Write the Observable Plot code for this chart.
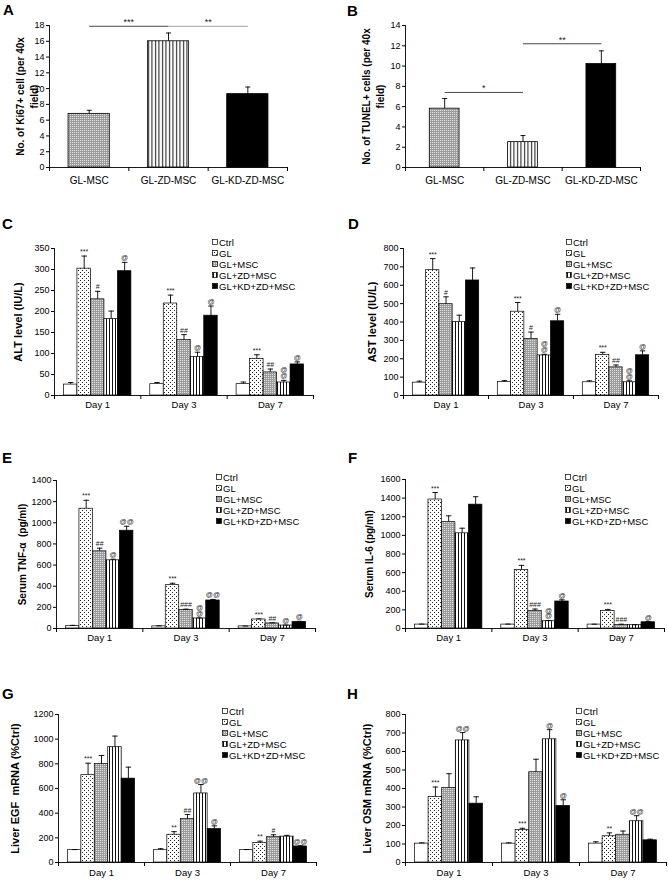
<!DOCTYPE html>
<html><head><meta charset="utf-8">
<script src="https://cdn.jsdelivr.net/npm/d3@7"></script>
<script src="https://cdn.jsdelivr.net/npm/@observablehq/plot@0.6"></script>
<style>
body{margin:0;background:#fff;font-family:"Liberation Sans",Arial,sans-serif;}
#root{position:relative;width:668px;height:880px;overflow:hidden;background:#fff;}
.letter{position:absolute;font-weight:bold;font-size:15px;line-height:15px;color:#000;}
.legend{position:absolute;font-size:9.5px;color:#000;}
.legend .row{display:flex;align-items:center;height:11px;line-height:11px;white-space:nowrap;}
.legend svg{margin-right:1px;flex:none;}
</style></head><body>
<svg width="0" height="0" style="position:absolute"><defs>
<pattern id="pDots" width="4" height="4" patternUnits="userSpaceOnUse"><rect width="4" height="4" fill="#fff"/><rect x="0" y="0" width="1" height="1" fill="#222"/><rect x="2" y="2" width="1" height="1" fill="#222"/></pattern>
<pattern id="pGray" width="2" height="2" patternUnits="userSpaceOnUse"><rect width="2" height="2" fill="#9c9c9c"/><rect width="1" height="1" fill="#e2e2e2"/></pattern>
<pattern id="pStripe" width="3" height="3" patternUnits="userSpaceOnUse"><rect width="3" height="3" fill="#fff"/><rect x="1" width="1" height="3" fill="#111"/></pattern>
<pattern id="pStripeA" width="3.5" height="4" patternUnits="userSpaceOnUse"><rect width="3.5" height="4" fill="#fff"/><rect x="1" width="1" height="4" fill="#111"/></pattern>
</defs></svg>
<div id="root"></div>
<script>
// ---------- shared categories ----------
const days = ["Day 1", "Day 3", "Day 7"];
const groups = ["Ctrl", "GL", "GL+MSC", "GL+ZD+MSC", "GL+KD+ZD+MSC"];
const groupFills = ["#ffffff", "url(#pDots)", "url(#pGray)", "url(#pStripe)", "#000000"];

const abCats = ["GL-MSC", "GL-ZD-MSC", "GL-KD-ZD-MSC"];
const abFills = ["url(#pGray)", "url(#pStripeA)", "#000000"];

// ---------- A: Ki67 ----------
const ki67Mean = [6.8, 16.0, 9.3];
const ki67Err = [0.45, 1.05, 0.9];
const ki67Ticks = [0, 2, 4, 6, 8, 10, 12, 14, 16, 18];
const ki67Comps = [
  {from: 0, to: 1, level: 17.9, label: "***", color: "#333"},
  {from: 1, to: 2, level: 17.9, label: "**", color: "#999"}
];

// ---------- B: TUNEL ----------
const tunelMean = [5.8, 2.5, 10.2];
const tunelErr = [1.0, 0.65, 1.3];
const tunelTicks = [0, 2, 4, 6, 8, 10, 12, 14];
const tunelComps = [
  {from: 0, to: 1, level: 7.4, label: "*", color: "#333"},
  {from: 1, to: 2, level: 12.2, label: "**", color: "#333"}
];

// ---------- C: ALT ----------
const altMean = [[26, 302, 229, 182, 296], [27, 219, 132, 92, 190], [27, 87, 55, 31, 74]];
const altErr  = [[5, 30, 19, 19, 21], [4, 20, 13, 11, 23], [5, 10, 8, 5, 6]];
const altSig  = [["", "***", "#", "", "@"], ["", "***", "##", "@", "@"], ["", "***", "##", "@\n@", "@"]];
const altTicks = [0, 50, 100, 150, 200, 250, 300, 350];

// ---------- D: AST ----------
const astMean = [[70, 682, 497, 400, 626], [73, 456, 308, 218, 404], [72, 220, 153, 72, 219]];
const astErr  = [[8, 63, 40, 37, 68], [8, 50, 37, 6, 38], [8, 15, 13, 8, 24]];
const astSig  = [["", "***", "#", "", ""], ["", "***", "#", "@\n@", "@"], ["", "***", "##", "@\n@", "@"]];
const astTicks = [0, 100, 200, 300, 400, 500, 600, 700, 800];

// ---------- E: TNF-a ----------
const tnfMean = [[22, 1133, 730, 645, 925], [20, 410, 175, 95, 265], [20, 85, 48, 28, 62]];
const tnfErr  = [[8, 80, 30, 10, 42], [5, 18, 8, 5, 10], [3, 6, 6, 4, 6]];
const tnfSig  = [["", "***", "##", "@", "@@"], ["", "***", "###", "@\n@", "@@"], ["", "***", "##", "@", "@"]];
const tnfTicks = [0, 200, 400, 600, 800, 1000, 1200, 1400];

// ---------- F: IL-6 ----------
const il6Mean = [[42, 1385, 1142, 1022, 1330], [42, 628, 187, 78, 290], [42, 187, 38, 36, 67]];
const il6Err  = [[5, 75, 68, 55, 85], [5, 50, 22, 8, 18], [4, 18, 8, 4, 6]];
const il6Sig  = [["", "***", "", "", ""], ["", "***", "###", "@\n@", "@"], ["", "***", "###", "", "@"]];
const il6Ticks = [0, 200, 400, 600, 800, 1000, 1200, 1400, 1600];

// ---------- G: EGF ----------
const egfMean = [[100, 708, 798, 935, 680], [100, 225, 352, 560, 272], [100, 158, 205, 210, 130]];
const egfErr  = [[5, 97, 70, 90, 93], [12, 25, 37, 72, 25], [5, 15, 20, 10, 6]];
const egfSig  = [["", "***", "", "", ""], ["", "**", "##", "@@", "@"], ["", "**", "#", "", "@@"]];
const egfTicks = [0, 200, 400, 600, 800, 1000, 1200];

// ---------- H: OSM ----------
const osmMean = [[102, 355, 403, 660, 318], [102, 175, 488, 666, 306], [102, 142, 150, 223, 120]];
const osmErr  = [[4, 53, 77, 42, 37], [4, 10, 70, 52, 33], [10, 18, 20, 30, 6]];
const osmSig  = [["", "***", "", "@@", ""], ["", "***", "", "@", "@"], ["", "**", "", "@@", ""]];
const osmTicks = [0, 100, 200, 300, 400, 500, 600, 700, 800];

const root = document.getElementById("root");
const FONT = "'Liberation Sans', Arial, sans-serif";
const plain = d => String(d);

function place(node, left, top) {
  node.style.position = "absolute";
  node.style.left = left + "px";
  node.style.top = top + "px";
  root.appendChild(node);
}
function letter(txt, x, capTop) {
  const d = document.createElement("div");
  d.className = "letter"; d.textContent = txt;
  d.style.left = x + "px"; d.style.top = (capTop - 2) + "px";
  root.appendChild(d);
}
function legend(x, yFirst) {
  const box = document.createElement("div");
  box.className = "legend";
  box.style.left = x + "px"; box.style.top = (yFirst - 5.5) + "px";
  groups.forEach((g, i) => {
    const row = document.createElement("div"); row.className = "row";
    row.innerHTML = `<svg width="6" height="6"><rect x="0.5" y="0.5" width="5" height="5" fill="${groupFills[i]}" stroke="#000" stroke-width="0.7"/></svg><span>${g}</span>`;
    box.appendChild(row);
  });
  root.appendChild(box);
}

// simple 3-category panel (A, B)
function simplePanel(c) {
  const pad = c.pad;
  const rows = abCats.map((cat, i) => ({cat, i, mean: c.mean[i], top: c.mean[i] + c.err[i]}));
  const frameW = c.width - c.mL - c.mR;
  const capU = 5 / (frameW / abCats.length);
  const centers = abCats.map((_, i) => i + 0.5);
  const bounds = d3.range(abCats.length + 1);
  const svg = Plot.plot({
    width: c.width, height: c.height,
    marginLeft: c.mL, marginRight: c.mR, marginTop: c.mT, marginBottom: c.mB,
    style: {fontFamily: FONT, fontSize: "9px", color: "#000", background: "transparent"},
    x: {type: "linear", domain: [0, abCats.length]},
    y: {domain: [0, c.yTicks[c.yTicks.length - 1]]},
    color: {type: "ordinal", domain: abCats, range: abFills},
    marks: [
      Plot.rect(rows, {x1: d => d.i + pad, x2: d => d.i + 1 - pad, y1: 0, y2: "mean", fill: "cat", stroke: "#000", strokeWidth: 0.8}),
      Plot.ruleX(rows, {x: d => d.i + 0.5, y1: "mean", y2: "top", stroke: "#000", strokeWidth: 0.9}),
      Plot.link(rows, {x1: d => d.i + 0.5 - capU / 2, x2: d => d.i + 0.5 + capU / 2, y1: "top", y2: "top", stroke: "#000", strokeWidth: 0.9}),
      Plot.link(c.comps, {x1: d => d.from + 0.5, x2: d => d.to + 0.5, y1: "level", y2: "level", stroke: d => d.color, strokeWidth: 0.9}),
      Plot.text(c.comps, {x: d => (d.from + d.to) / 2 + 0.5, y: "level", text: "label", lineAnchor: "bottom", dy: -1, fontSize: 9, fill: "#222"}),
      Plot.ruleY([0], {stroke: "#000", strokeWidth: 0.9}),
      Plot.ruleX([0], {stroke: "#000", strokeWidth: 0.9}),
      Plot.axisY({ticks: c.yTicks, tickSize: 3, tickPadding: 2, tickFormat: plain, label: null, fontSize: 9}),
      Plot.axisX({ticks: bounds, tickSize: 4, tickFormat: () => "", label: null}),
      Plot.axisX({ticks: centers, tickSize: 0, tickPadding: 9, tickFormat: v => abCats[Math.round(v - 0.5)], label: null, fontSize: 10}),
      Plot.text([c.yLabel], {frameAnchor: "left", textAnchor: "middle", rotate: -90, dx: c.labelDx, fontWeight: "bold", fontSize: 10, lineHeight: 1.4})
    ]
  });
  place(svg, c.left, c.top);
}

// grouped panel (C..H)
const PAD = 0.7;
function groupedPanel(c) {
  const S = groups.length + 2 * PAD;
  const rows = [];
  days.forEach((day, di) => groups.forEach((g, gi) => {
    const x1 = di * S + PAD + gi;
    rows.push({day, group: g, x1, x2: x1 + 1, xc: x1 + 0.5,
      mean: c.mean[di][gi], err: c.err[di][gi], top: c.mean[di][gi] + c.err[di][gi], sig: c.sig[di][gi]});
  }));
  const frameW = c.width - c.mL - c.mR;
  const capU = 5.5 / (frameW / (days.length * S));
  const centers = days.map((_, i) => i * S + S / 2);
  const bounds = d3.range(days.length + 1).map(i => i * S);
  const svg = Plot.plot({
    width: c.width, height: c.height,
    marginLeft: c.mL, marginRight: c.mR, marginTop: c.mT, marginBottom: c.mB,
    style: {fontFamily: FONT, fontSize: "9px", color: "#000", background: "transparent"},
    x: {type: "linear", domain: [0, days.length * S]},
    y: {domain: [0, c.yTicks[c.yTicks.length - 1]]},
    color: {type: "ordinal", domain: groups, range: groupFills},
    marks: [
      Plot.rect(rows, {x1: "x1", x2: "x2", y1: 0, y2: "mean", fill: "group", stroke: "#000", strokeWidth: 0.7}),
      Plot.ruleX(rows.filter(d => d.err > 0), {x: "xc", y1: "mean", y2: "top", stroke: "#000", strokeWidth: 0.9}),
      Plot.link(rows.filter(d => d.err > 0), {x1: d => d.xc - capU / 2, x2: d => d.xc + capU / 2, y1: "top", y2: "top", stroke: "#000", strokeWidth: 0.9}),
      Plot.text(rows.filter(d => d.sig), {x: "xc", y: "top", text: "sig", lineAnchor: "bottom", dy: -2, fontSize: 7, lineHeight: 0.85, fill: "#222"}),
      Plot.ruleY([0], {stroke: "#000", strokeWidth: 0.9}),
      Plot.ruleX([0], {stroke: "#000", strokeWidth: 0.9}),
      Plot.axisY({ticks: c.yTicks, tickSize: 3, tickPadding: 2, tickFormat: plain, label: null, fontSize: 9}),
      Plot.axisX({ticks: bounds, tickSize: 4, tickFormat: () => "", label: null}),
      Plot.axisX({ticks: centers, tickSize: 0, tickPadding: c.dayPad, tickFormat: v => days[Math.round((v - S / 2) / S)], label: null, fontSize: 9.5}),
      Plot.text([c.yLabel], {frameAnchor: "left", textAnchor: "middle", rotate: -90, dx: c.labelDx, fontWeight: "bold", fontSize: c.labelSize})
    ]
  });
  place(svg, c.left, c.top);
  legend(c.legX, c.legY);
}

simplePanel({left: 0, top: 0, width: 334, height: 195, mL: 49, mR: 47, mT: 25, mB: 28, pad: 0.24,
  mean: ki67Mean, err: ki67Err, yTicks: ki67Ticks, comps: ki67Comps,
  yLabel: "No. of Ki67+ cell (per 40x\nfield)", labelDx: -23});
simplePanel({left: 334, top: 0, width: 334, height: 195, mL: 71, mR: 28, mT: 25, mB: 28, pad: 0.31,
  mean: tunelMean, err: tunelErr, yTicks: tunelTicks, comps: tunelComps,
  yLabel: "No. of TUNEL+ cells (per 40x\nfield)", labelDx: -33});

groupedPanel({left: 0, top: 200, width: 334, height: 220, mL: 54, mR: 21, mT: 48, mB: 25,
  mean: altMean, err: altErr, sig: altSig, yTicks: altTicks, yLabel: "ALT level (IU/L)", labelDx: -36, labelSize: 11,
  dayPad: 6, legX: 212, legY: 242});
groupedPanel({left: 334, top: 200, width: 334, height: 220, mL: 69, mR: 10, mT: 48, mB: 25,
  mean: astMean, err: astErr, sig: astSig, yTicks: astTicks, yLabel: "AST level (IU/L)", labelDx: -31, labelSize: 11,
  dayPad: 6, legX: 566, legY: 242});
groupedPanel({left: 0, top: 420, width: 334, height: 230, mL: 56, mR: 19, mT: 60, mB: 22,
  mean: tnfMean, err: tnfErr, sig: tnfSig, yTicks: tnfTicks, yLabel: "Serum TNF-\u03b1  (pg/ml)", labelDx: -34, labelSize: 10,
  dayPad: 6, legX: 216, legY: 477});
groupedPanel({left: 334, top: 420, width: 334, height: 230, mL: 71, mR: 4, mT: 59, mB: 22,
  mean: il6Mean, err: il6Err, sig: il6Sig, yTicks: il6Ticks, yLabel: "Serum IL-6 (pg/ml)", labelDx: -36, labelSize: 10,
  dayPad: 6, legX: 565, legY: 477});
groupedPanel({left: 0, top: 650, width: 334, height: 230, mL: 58, mR: 18, mT: 64, mB: 18,
  mean: egfMean, err: egfErr, sig: egfSig, yTicks: egfTicks, yLabel: "Liver EGF  mRNA (%Ctrl)", labelDx: -43, labelSize: 11,
  dayPad: 7, legX: 222, legY: 711});
groupedPanel({left: 334, top: 650, width: 334, height: 230, mL: 71, mR: 2, mT: 64, mB: 18,
  mean: osmMean, err: osmErr, sig: osmSig, yTicks: osmTicks, yLabel: "Liver OSM mRNA (%Ctrl)", labelDx: -38, labelSize: 11,
  dayPad: 7, legX: 576, legY: 711});

letter("A", 3, 4); letter("B", 347, 5);
letter("C", 2, 218); letter("D", 348, 218);
letter("E", 2, 452); letter("F", 348, 452);
letter("G", 2, 688); letter("H", 347, 688);
</script>
</body></html>
